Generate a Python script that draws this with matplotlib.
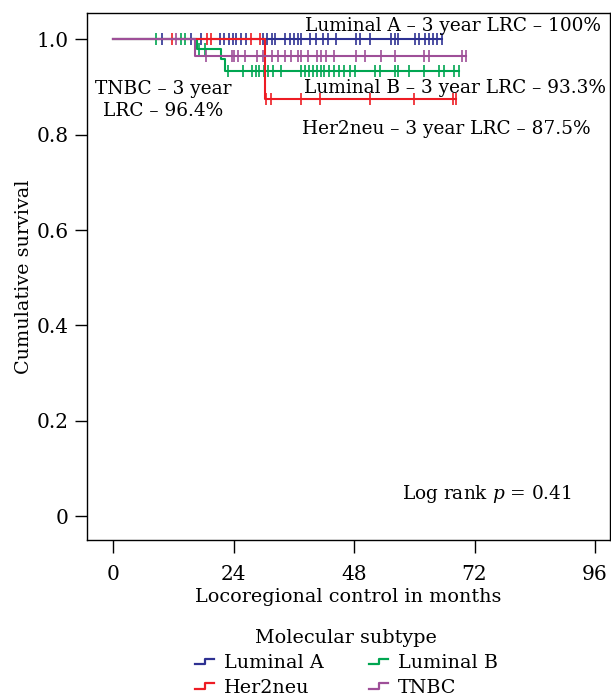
import matplotlib.pyplot as plt
from matplotlib.lines import Line2D
from matplotlib.legend_handler import HandlerBase

plt.rcParams['font.family'] = ['DejaVu Serif']
plt.rcParams['mathtext.fontset'] = 'dejavuserif'

groups = ['Luminal A', 'Luminal B', 'Her2neu', 'TNBC']
colors = ['#2e3192', '#00a651', '#ed1c24', '#9e4f98']

# step curves: event times and survival after each event
lumA_events, lumA_surv = [], []
lumB_events, lumB_surv = [16.8, 21.4, 22.2], [0.98, 0.958, 0.933]
her2_events, her2_surv = [30.2], [0.875]
tnbc_events, tnbc_surv = [16.4], [0.964]

# last follow-up
ends = [65.6, 69.0, 68.3, 70.3]

# censored observations (months)
lumA_cens = [9.8, 15.5, 17.6, 21.3, 22.1, 23.1, 23.9, 24.5, 25.4, 26.4, 29.9, 30.7,
             31.6, 32.2, 34.2, 35.2, 36.0, 36.8, 37.5, 39.2, 40.4, 41.8, 42.8, 44.5,
             48.4, 49.1, 51.1, 55.4, 56.1, 56.7, 60.1, 61.0, 62.1, 63.0, 63.7, 64.5, 65.6]
lumB_cens = [8.5, 13.5, 14.4, 17.1, 18.3, 22.9, 25.9, 27.6, 28.4, 29.1, 30.0, 30.9,
             31.9, 33.5, 37.5, 38.2, 39.0, 39.8, 40.6, 41.5, 42.1, 43.1, 44.1, 45.1,
             46.1, 47.1, 48.1, 52.1, 53.1, 56.1, 56.7, 59.0, 62.0, 65.0, 66.0, 68.0, 69.0]
her2_cens = [11.7, 18.8, 19.6, 27.4, 29.2, 30.5, 31.5, 37.5, 41.2, 51.1, 60.0, 67.7, 68.3]
tnbc_cens = [12.5, 18.6, 23.6, 24.1, 24.9, 26.2, 28.6, 29.9, 31.7, 32.9, 34.2, 35.5,
             36.8, 37.5, 38.8, 40.6, 41.5, 42.5, 44.1, 48.4, 50.2, 53.4, 56.1, 62.0,
             63.0, 69.6, 70.3]

events = [lumA_events, lumB_events, her2_events, tnbc_events]
survs = [lumA_surv, lumB_surv, her2_surv, tnbc_surv]
censored = [lumA_cens, lumB_cens, her2_cens, tnbc_cens]

labels_text = ['Luminal A \u2013 3 year LRC \u2013 100%',
               'Luminal B \u2013 3 year LRC \u2013 93.3%',
               'Her2neu \u2013 3 year LRC \u2013 87.5%',
               'TNBC \u2013 3 year\nLRC \u2013 96.4%']


def surv_at(t, ev, sv):
    s = 1.0
    for e, v in zip(ev, sv):
        if t >= e:
            s = v
    return s


class StepHandler(HandlerBase):
    def create_artists(self, legend, orig, xd, yd, w, h, fontsize, trans):
        x = [xd, xd + w * 0.5, xd + w * 0.5, xd + w]
        y = [yd + h * 0.3, yd + h * 0.3, yd + h * 0.7, yd + h * 0.7]
        ln = Line2D(x, y, color=orig.get_color(), lw=1.6, transform=trans)
        return [ln]


fs = 13.3
fig = plt.figure(figsize=(6.11, 7.0), dpi=100)
ax = fig.add_axes([0.1424, 0.2286, 0.856, 0.7528])

handles = []
for g, c, ev, sv, cs, end in zip(groups, colors, events, survs, censored, ends):
    xs = [0] + ev + [end]
    ys = [1.0] + sv + [sv[-1] if sv else 1.0]
    h, = ax.step(xs, ys, where='post', color=c, lw=1.5)
    ax.plot(cs, [surv_at(t, ev, sv) for t in cs], ls='none', marker='|',
            ms=8, mew=1.2, color=c)
    handles.append(h)

ax.set_xlim(-5.2, 99.0)
ax.set_ylim(-0.05, 1.055)
ax.set_xticks([0, 24, 48, 72, 96])
ax.set_yticks([0, 0.2, 0.4, 0.6, 0.8, 1.0])
ax.set_yticklabels(['0', '0.2', '0.4', '0.6', '0.8', '1.0'])
ax.tick_params(labelsize=14.5, length=9, width=1, direction='out', pad=4)
ax.tick_params(axis='x', pad=9)
ax.set_xlabel('Locoregional control in months', fontsize=13.8, labelpad=3)
ax.set_ylabel('Cumulative survival', fontsize=13.8, labelpad=3)
for sp in ax.spines.values():
    sp.set_linewidth(1.0)

ax.text(38.2, 1.027, labels_text[0], fontsize=fs, ha='left', va='center')
ax.text(38.0, 0.897, labels_text[1], fontsize=fs, ha='left', va='center')
ax.text(37.6, 0.811, labels_text[2], fontsize=fs, ha='left', va='center')
ax.text(10.0, 0.873, labels_text[3], fontsize=fs, ha='center', va='center',
        linespacing=1.3)
ax.text(57.5, 0.046, 'Log rank $\\it{p}$ = 0.41', fontsize=fs, ha='left', va='center')

order = [0, 2, 1, 3]
leg = fig.legend([handles[i] for i in order], [groups[i] for i in order],
                 handler_map={Line2D: StepHandler()},
                 loc='upper center', bbox_to_anchor=(0.567, 0.12), ncol=2,
                 frameon=False, fontsize=13.8, title='Molecular subtype',
                 title_fontsize=13.8, handlelength=1.0, handletextpad=0.5,
                 columnspacing=2.4, labelspacing=0.35, borderpad=0.2)

fig.savefig('out.png', dpi=100)
